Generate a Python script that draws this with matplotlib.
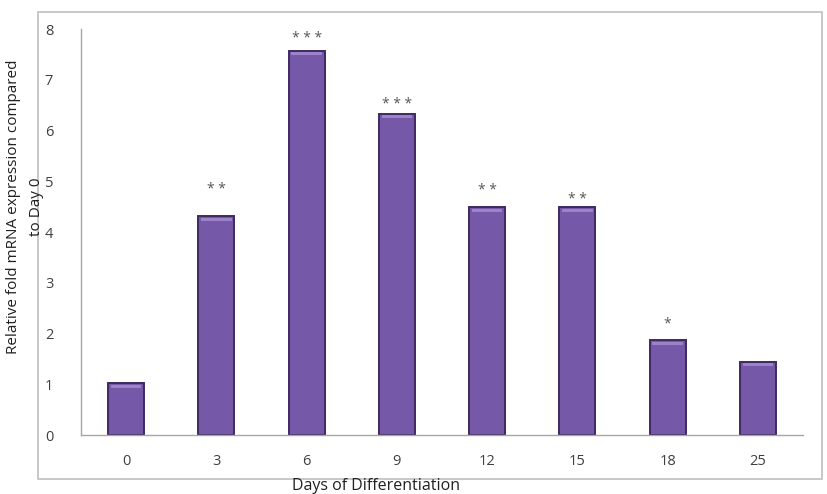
import matplotlib.pyplot as plt
import matplotlib.patches as patches
import numpy as np

# data
days = ["0", "3", "6", "9", "12", "15", "18", "25"]
fold_change = [1.02, 4.31, 7.57, 6.33, 4.49, 4.49, 1.87, 1.44]
stars = ["", "**", "***", "***", "**", "**", "*", ""]
star_y = [0, 4.95, 7.93, 6.63, 4.92, 4.76, 2.30, 0]

plt.rcParams['font.family'] = ['Open Sans', 'DejaVu Sans']

fig = plt.figure(figsize=(8.28, 4.94), dpi=100)
ax = fig.add_axes([81 / 828, 1 - 435 / 494, 722 / 828, 406 / 494])

x = np.arange(len(days))
bars = ax.bar(x, fold_change, width=0.4, color="#7658a8", edgecolor="#3e2a60", linewidth=1.4, zorder=2)

# light bevel on top of each bar
for b in bars:
    bx, bw, bh = b.get_x(), b.get_width(), b.get_height()
    ax.add_patch(patches.Rectangle((bx + bw * 0.08, bh - 0.09), bw * 0.84, 0.06,
                                   color="#9c82c8", lw=0, zorder=3))

for xi, sy, s in zip(x, star_y, stars):
    if s:
        ax.text(xi, sy - 0.18, " ".join(s), ha="center", va="baseline", fontsize=10, color="#555555")

ax.set_xlim(-0.5, len(days) - 0.5)
ax.set_ylim(0, 8)
ax.set_xticks(x)
ax.set_xticklabels(days)
ax.set_yticks(range(0, 9))
ax.tick_params(length=0, labelsize=10.5, colors="#404040")
ax.tick_params(axis="x", pad=14)
ax.tick_params(axis="y", pad=20)
for side in ["top", "right"]:
    ax.spines[side].set_visible(False)
for side in ["left", "bottom"]:
    ax.spines[side].set_color("#a6a6a6")
    ax.spines[side].set_linewidth(1.0)

# outer chart frame
fig.patches.append(patches.Rectangle((38 / 828, 1 - 479 / 494), 784 / 828, 467 / 494,
                                     transform=fig.transFigure, fill=False,
                                     edgecolor="#bfbfbf", linewidth=1.2))

fig.text(25 / 828, 1 - 207 / 494, "Relative fold mRNA expression compared\nto Day 0",
         rotation=90, ha="center", va="center", multialignment="center",
         fontsize=11, color="#202020", linespacing=1.8)
fig.text(376 / 828, 1 - 486 / 494, "Days of Differentiation", ha="center", va="center",
         fontsize=11.5, color="#202020")

fig.savefig("out.png", dpi=100)
